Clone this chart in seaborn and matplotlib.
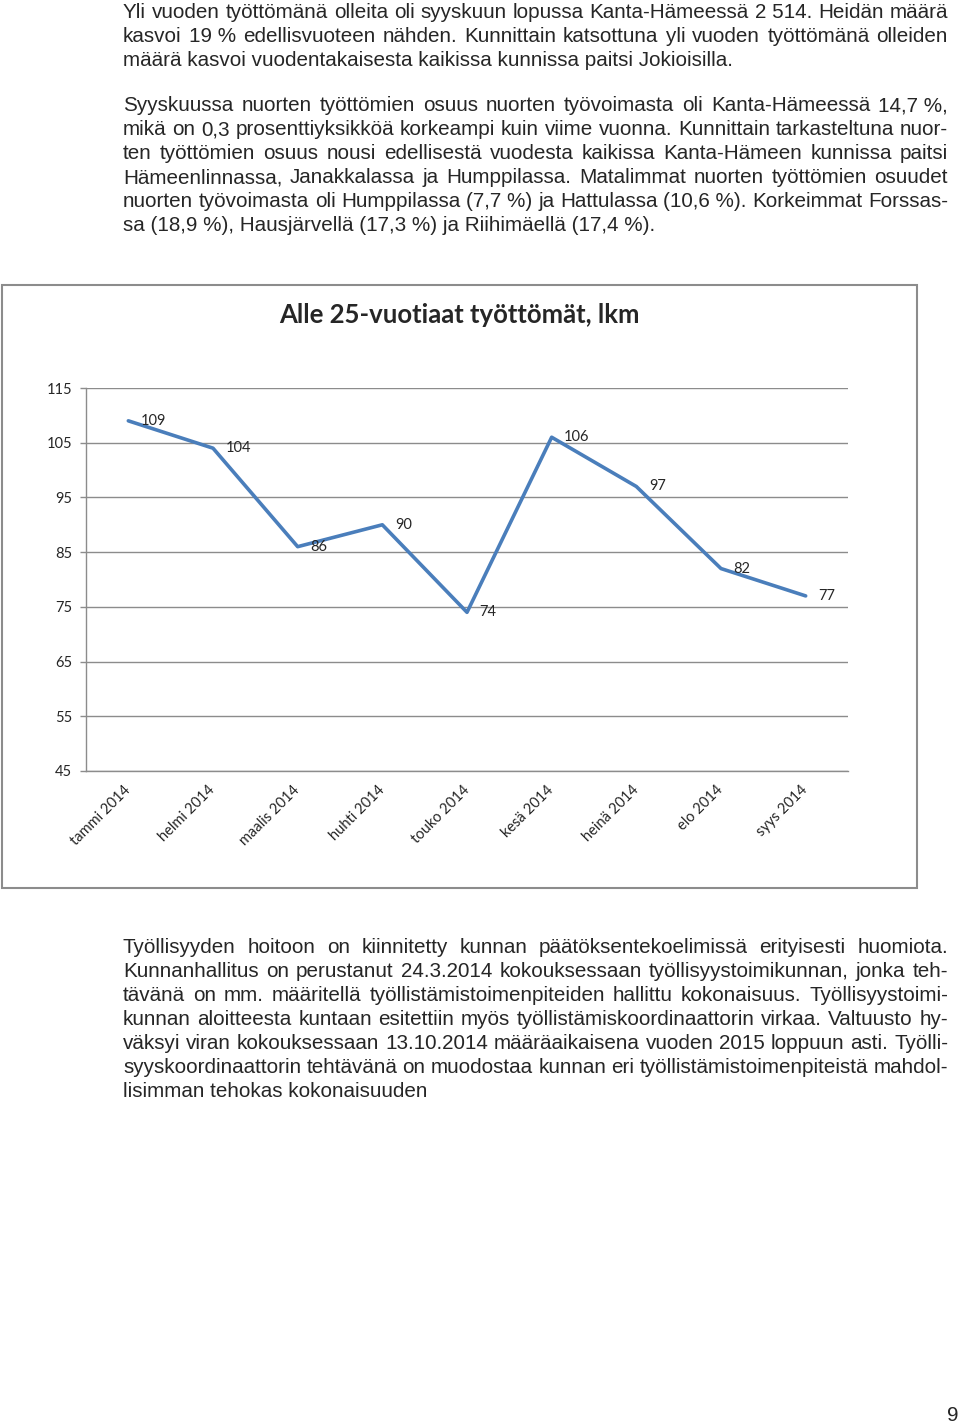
import numpy as np
import pandas as pd
import matplotlib.pyplot as plt
import matplotlib.patches as mpatches
import seaborn as sns

months = ['tammi 2014', 'helmi 2014', 'maalis 2014', 'huhti 2014', 'touko 2014',
          'kesä 2014', 'heinä 2014', 'elo 2014', 'syys 2014']
young_unemployed = [109, 104, 86, 90, 74, 106, 97, 82, 77]
y_ticks = [45, 55, 65, 75, 85, 95, 105, 115]
chart_title = 'Alle 25-vuotiaat työttömät, lkm'

para1 = [
    'Yli vuoden työttömänä olleita oli syyskuun lopussa Kanta-Hämeessä 2\u00a0514. Heidän määrä',
    'kasvoi 19\u00a0% edellisvuoteen nähden. Kunnittain katsottuna yli vuoden työttömänä olleiden',
    'määrä kasvoi vuodentakaisesta kaikissa kunnissa paitsi Jokioisilla.',
]
para2 = [
    'Syyskuussa nuorten työttömien osuus nuorten työvoimasta oli Kanta-Hämeessä 14,7\u00a0%,',
    'mikä on 0,3 prosenttiyksikköä korkeampi kuin viime vuonna. Kunnittain tarkasteltuna nuor-',
    'ten työttömien osuus nousi edellisestä vuodesta kaikissa Kanta-Hämeen kunnissa paitsi',
    'Hämeenlinnassa, Janakkalassa ja Humppilassa. Matalimmat nuorten työttömien osuudet',
    'nuorten työvoimasta oli Humppilassa (7,7\u00a0%) ja Hattulassa (10,6\u00a0%). Korkeimmat Forssas-',
    'sa (18,9\u00a0%), Hausjärvellä (17,3\u00a0%) ja Riihimäellä (17,4\u00a0%).',
]
para3 = [
    'Työllisyyden hoitoon on kiinnitetty kunnan päätöksentekoelimissä erityisesti huomiota.',
    'Kunnanhallitus on perustanut 24.3.2014 kokouksessaan työllisyystoimikunnan, jonka teh-',
    'tävänä on mm. määritellä työllistämistoimenpiteiden hallittu kokonaisuus. Työllisyystoimi-',
    'kunnan aloitteesta kuntaan esitettiin myös työllistämiskoordinaattorin virkaa. Valtuusto hy-',
    'väksyi viran kokouksessaan 13.10.2014 määräaikaisena vuoden 2015 loppuun asti. Työlli-',
    'syyskoordinaattorin tehtävänä on muodostaa kunnan eri työllistämistoimenpiteistä mahdol-',
    'lisimman tehokas kokonaisuuden',
]

W, H = 960, 1426
BODY_FONT = ['Liberation Sans', 'DejaVu Sans']
CHART_FONT = ['Lato', 'DejaVu Sans']
BODY_SIZE = 14.9
sns.set_style('white')
plt.rcParams['font.family'] = BODY_FONT

fig = plt.figure(figsize=(W / 100, H / 100), dpi=100)
renderer = fig.canvas.get_renderer()


def put_line(text, y, justify, size=BODY_SIZE, x0=123, x1=948):
    # y is the baseline in pixels from the top; justified lines get stretched word gaps
    if not justify:
        fig.text(x0 / W, 1 - y / H, text, fontsize=size, va='baseline', ha='left')
        return
    words = text.split(' ')
    items = [fig.text(0, 1 - y / H, w, fontsize=size, va='baseline', ha='left') for w in words]
    widths = [t.get_window_extent(renderer).width for t in items]
    gap = (x1 - x0 - sum(widths)) / max(len(words) - 1, 1)
    x = x0
    for t, w in zip(items, widths):
        t.set_x(x / W)
        x += w + gap


def put_para(lines, y0, step=24):
    for i, line in enumerate(lines):
        put_line(line, y0 + 6 + i * step, justify=(i < len(lines) - 1))


put_para(para1, 12)
put_para(para2, 105)
put_para(para3, 947)
fig.text(953 / W, 1 - 1421 / H, '9', fontsize=BODY_SIZE, va='baseline', ha='center')

# chart frame
fig.add_artist(mpatches.Rectangle((2 / W, 1 - 888 / H), 915 / W, 603 / H,
                                  transform=fig.transFigure, fill=False,
                                  ec='#8c8c8c', lw=1.5))
fig.text(459 / W, 1 - 315 / H, chart_title, fontsize=18.5, fontweight='bold',
         family=CHART_FONT, ha='center', va='center')

ax = fig.add_axes([86 / W, 1 - 771 / H, (848 - 86) / W, (771 - 388) / H])
df = pd.DataFrame({'kk': months, 'lkm': young_unemployed})
sns.lineplot(data=df, x='kk', y='lkm', ax=ax, sort=False, color='#4A7EBB', lw=2.6)

for i, v in enumerate(young_unemployed):
    ax.annotate(str(v), (i, v), xytext=(9, 0), textcoords='offset points',
                ha='left', va='center', fontsize=10.5, family=CHART_FONT)

ax.set_xlim(-0.5, len(months) - 0.5)
ax.set_ylim(45, 115)
ax.set_yticks(y_ticks)
ax.set_xticks(range(len(months)))
ax.set_xticklabels(months, rotation=45, ha='right', va='center',
                   rotation_mode='anchor', family=CHART_FONT, fontsize=10.5)
ax.set_xticks(np.arange(-0.5, len(months), 1), minor=True)
for lab in ax.get_yticklabels():
    lab.set_family(CHART_FONT)
    lab.set_fontsize(10.5)
ax.tick_params(axis='x', which='major', length=0, pad=12)
ax.tick_params(axis='x', which='minor', length=4, color='#8c8c8c', width=1)
ax.tick_params(axis='y', length=4, color='#8c8c8c', width=1, pad=6, left=True)
ax.yaxis.grid(True, color='#8c8c8c', lw=1)
ax.set_axisbelow(True)
for side in ['top', 'right']:
    ax.spines[side].set_visible(False)
for side in ['left', 'bottom']:
    ax.spines[side].set_color('#8c8c8c')
    ax.spines[side].set_linewidth(1)
ax.set_xlabel('')
ax.set_ylabel('')

fig.savefig('out.png', dpi=100)
